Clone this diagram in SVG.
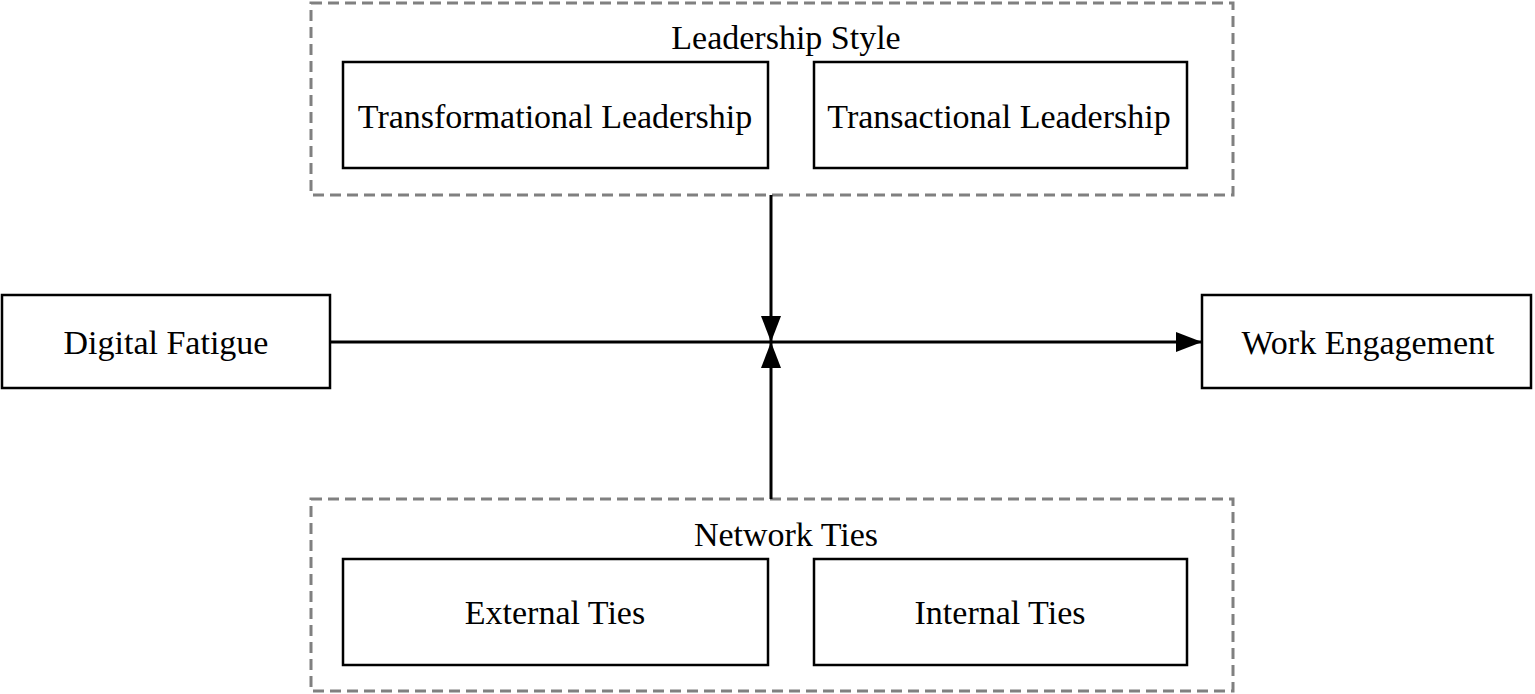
<svg xmlns="http://www.w3.org/2000/svg" width="1535" height="694" viewBox="0 0 1535 694">
<style>
.grp{fill:none;stroke:#808080;stroke-width:3;stroke-dasharray:11,6}
.box{fill:#fff;stroke:#000;stroke-width:2.5}
.t{font-family:"Liberation Serif","Times New Roman",serif;font-size:34px;fill:#000;text-anchor:middle}
.ln{stroke:#000;stroke-width:3;fill:none}
</style>
<defs>
<marker id="ah" viewBox="0 0 26 20" refX="26" refY="10" markerWidth="26" markerHeight="20" markerUnits="userSpaceOnUse" orient="auto">
<path d="M0,0 L26,10 L0,20 Z" fill="#000"/>
</marker>
</defs>
<rect width="1535" height="694" fill="#fff"/>
<g id="leadership-style">
<rect class="grp" x="311" y="3" width="922" height="192"/>
<text class="t" x="786" y="49">Leadership Style</text>
</g>
<g id="transformational">
<rect class="box" x="343" y="62" width="425" height="106"/>
<text class="t" x="555" y="128">Transformational Leadership</text>
</g>
<g id="transactional">
<rect class="box" x="814" y="62" width="373" height="106"/>
<text class="t" x="999" y="128">Transactional Leadership</text>
</g>
<g id="network-ties">
<rect class="grp" x="311" y="499" width="922" height="192"/>
<text class="t" x="786" y="546">Network Ties</text>
</g>
<g id="external">
<rect class="box" x="343" y="559" width="425" height="106"/>
<text class="t" x="555" y="624">External Ties</text>
</g>
<g id="internal">
<rect class="box" x="814" y="559" width="373" height="106"/>
<text class="t" x="1000" y="624">Internal Ties</text>
</g>
<g id="digital-fatigue">
<rect class="box" x="2" y="295" width="328" height="93"/>
<text class="t" x="166" y="354">Digital Fatigue</text>
</g>
<g id="work-engagement">
<rect class="box" x="1202" y="295" width="329" height="93"/>
<text class="t" x="1368" y="354">Work Engagement</text>
</g>
<g id="connectors">
<line class="ln" x1="330" y1="342" x2="1202" y2="342" marker-end="url(#ah)"/>
<line class="ln" x1="771" y1="195" x2="771" y2="342" marker-end="url(#ah)"/>
<line class="ln" x1="771" y1="499" x2="771" y2="342" marker-end="url(#ah)"/>
</g>
</svg>
